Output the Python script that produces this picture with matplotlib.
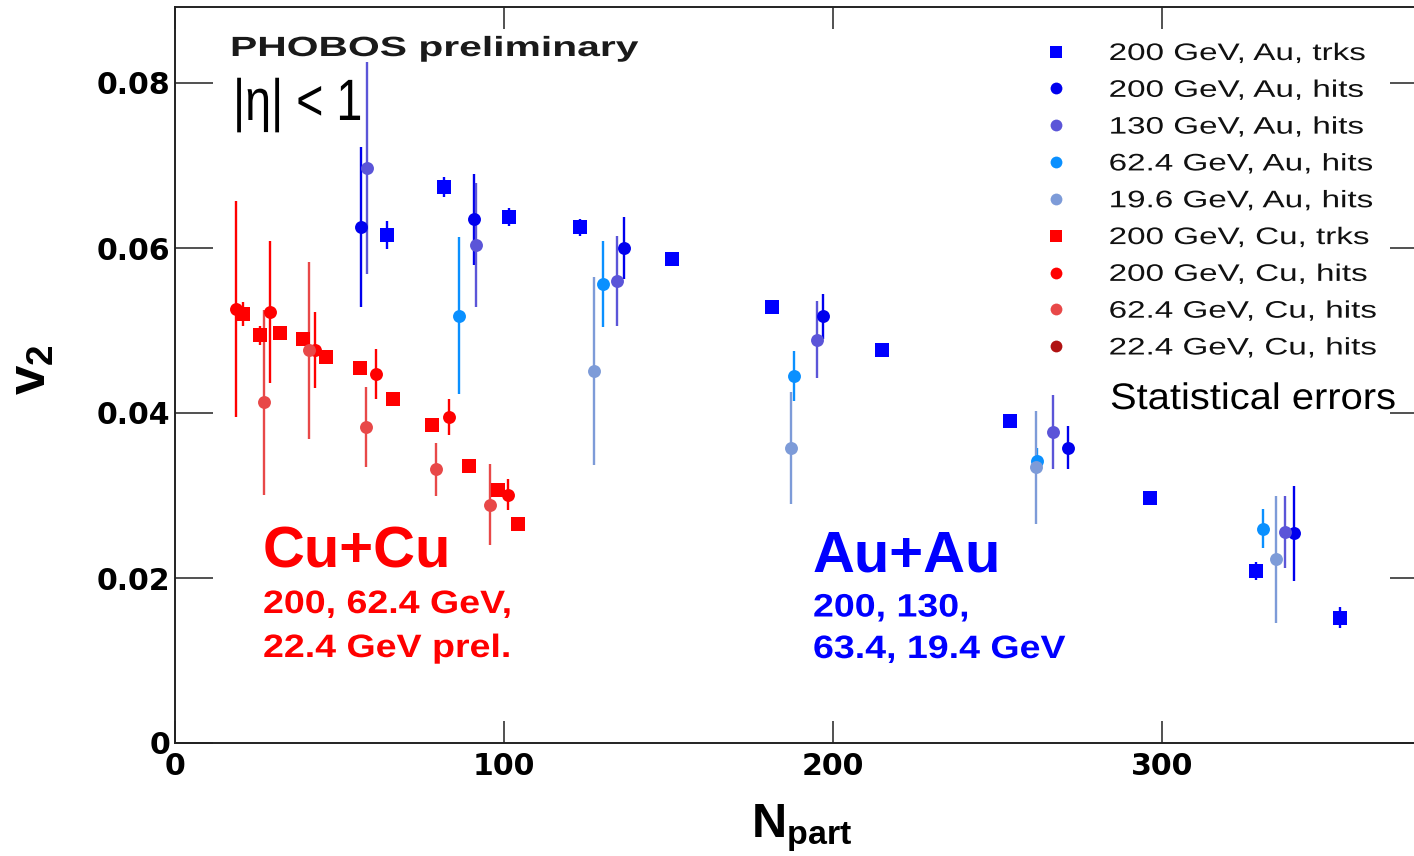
import matplotlib
matplotlib.use("Agg")
import matplotlib.pyplot as plt
from matplotlib.lines import Line2D
from matplotlib.patheffects import AbstractPathEffect
from matplotlib.transforms import Affine2D

# ---------------- data: v2 vs Npart (|eta| < 1) ----------------
au200_trk_npart = [64.4, 81.8, 101.5, 123.1, 151.1, 181.5, 214.9, 253.8, 296.4, 328.6, 354.1]
au200_trk_v2 = [0.0616, 0.0674, 0.0638, 0.0625, 0.0587, 0.0528, 0.0476, 0.0390, 0.0297, 0.0208, 0.0152]
au200_trk_err = [0.0017, 0.0012, 0.0011, 0.0010, 0.0005, 0.0005, 0.0005, 0.0005, 0.0007, 0.0011, 0.0013]

au200_hit_npart = [56.5, 90.9, 136.5, 197.1, 271.4, 340.1]
au200_hit_v2 = [0.0626, 0.0635, 0.0600, 0.0517, 0.0358, 0.0254]
au200_hit_err = [0.0097, 0.0055, 0.0037, 0.0027, 0.0026, 0.0058]

au130_hit_npart = [58.3, 91.4, 134.4, 195.2, 267.0, 337.4]
au130_hit_v2 = [0.0697, 0.0604, 0.0560, 0.0489, 0.0377, 0.0256]
au130_hit_err = [0.0128, 0.0075, 0.0055, 0.0047, 0.0045, 0.0044]

au62_hit_npart = [86.4, 130.0, 188.1, 262.0, 330.8]
au62_hit_v2 = [0.0518, 0.0556, 0.0445, 0.0342, 0.0260]
au62_hit_err = [0.0095, 0.0052, 0.0030, 0.0015, 0.0024]

au19_hit_npart = [127.4, 187.1, 261.7, 334.7]
au19_hit_v2 = [0.0451, 0.0358, 0.0334, 0.0223]
au19_hit_err = [0.0114, 0.0068, 0.0068, 0.0077]

cu200_trk_npart = [20.6, 25.8, 31.9, 38.8, 45.9, 56.3, 66.2, 78.1, 89.5, 98.1, 104.2]
cu200_trk_v2 = [0.0520, 0.0494, 0.0497, 0.0490, 0.0468, 0.0454, 0.0417, 0.0385, 0.0336, 0.0307, 0.0266]
cu200_trk_err = [0.0015, 0.0012, 0.0009, 0.0008, 0.0005, 0.0005, 0.0005, 0.0005, 0.0005, 0.0005, 0.0005]

cu200_hit_npart = [18.5, 28.9, 42.5, 61.0, 83.3, 101.1]
cu200_hit_v2 = [0.0526, 0.0522, 0.0476, 0.0447, 0.0395, 0.0301]
cu200_hit_err = [0.0131, 0.0086, 0.0046, 0.0030, 0.0022, 0.0019]

cu62_hit_npart = [27.2, 40.8, 58.1, 79.3, 95.7]
cu62_hit_v2 = [0.0413, 0.0476, 0.0383, 0.0332, 0.0289]
cu62_hit_err = [0.0112, 0.0107, 0.0048, 0.0032, 0.0049]

cu22_hit_npart = []
cu22_hit_v2 = []
cu22_hit_err = []

series_labels = ["200 GeV, Au, trks", "200 GeV, Au, hits", "130 GeV, Au, hits",
                 "62.4 GeV, Au, hits", "19.6 GeV, Au, hits", "200 GeV, Cu, trks",
                 "200 GeV, Cu, hits", "62.4 GeV, Cu, hits", "22.4 GeV, Cu, hits"]
x_ticks = [0, 100, 200, 300]
y_ticks = [0, 0.02, 0.04, 0.06, 0.08]
y_tick_labels = ["0", "0.02", "0.04", "0.06", "0.08"]

# ---------------- styling ----------------
plt.rcParams["mathtext.fontset"] = "custom"
plt.rcParams["mathtext.bf"] = "Liberation Sans:bold"
plt.rcParams["mathtext.rm"] = "Liberation Sans"
plt.rcParams["mathtext.it"] = "Liberation Sans:italic"


class WideText(AbstractPathEffect):
    """Render glyphs scaled horizontally about the text origin."""

    def __init__(self, sx):
        super().__init__()
        self._sx = sx

    def draw_path(self, renderer, gc, tpath, affine, rgbFace=None):
        renderer.draw_path(gc, tpath, Affine2D().scale(self._sx, 1.0) + affine, rgbFace)


W, H = 1414, 856
fig = plt.figure(figsize=(W / 100, H / 100), dpi=100)
ax = fig.add_axes([175 / W, 113 / H, 1253 / W, 736 / H])

series = [
    (au200_trk_npart, au200_trk_v2, au200_trk_err, "s", "#0000ff", 10.0),
    (au200_hit_npart, au200_hit_v2, au200_hit_err, "o", "#0000ee", 9.3),
    (au130_hit_npart, au130_hit_v2, au130_hit_err, "o", "#5b55d8", 9.3),
    (au62_hit_npart, au62_hit_v2, au62_hit_err, "o", "#0a90ff", 9.3),
    (au19_hit_npart, au19_hit_v2, au19_hit_err, "o", "#7d9bd8", 9.3),
    (cu200_trk_npart, cu200_trk_v2, cu200_trk_err, "s", "#ff0000", 10.0),
    (cu200_hit_npart, cu200_hit_v2, cu200_hit_err, "o", "#ff0000", 9.3),
    (cu62_hit_npart, cu62_hit_v2, cu62_hit_err, "o", "#e84848", 9.3),
    (cu22_hit_npart, cu22_hit_v2, cu22_hit_err, "o", "#b01212", 9.3),
]

handles = []
for (xs, ys, es, mk, col, ms) in series:
    if len(xs):
        ax.errorbar(xs, ys, yerr=es, fmt=mk, color=col, ms=ms, mew=0,
                    elinewidth=1.7, capsize=0, ls="none")
    handles.append(Line2D([], [], marker=mk, ls="none", color=col, mew=0,
                          ms=9.0 if mk == "s" else 8.5))

ax.set_xlim(0, 1253 / 3.29)
ax.set_ylim(0, 736 / 8250)

ax.set_xticks(x_ticks, [str(t) for t in x_ticks], fontweight="bold", fontsize=21.6,
              fontfamily="DejaVu Sans")
ax.set_yticks(y_ticks, y_tick_labels, fontweight="bold", fontsize=21.6,
              fontfamily="DejaVu Sans")
ax.tick_params(axis="x", direction="in", length=15.8, width=1.1, top=True, pad=6.5,
               color="#222222")
ax.tick_params(axis="y", direction="in", length=27.4, width=1.1, right=True, pad=3.4,
               color="#222222")
for sp in ax.spines.values():
    sp.set_linewidth(1.4)
    sp.set_color("#222222")

ax.set_xlabel(r"$\mathbf{N}_{\mathbf{part}}$", fontsize=35)
ax.xaxis.set_label_coords(0.5, -0.080)
ax.xaxis.label.set_va("top")
ax.set_ylabel(r"$\mathbf{v}_{\mathbf{2}}$", fontsize=38)
ax.yaxis.set_label_coords(-0.0945, 0.508)

leg = ax.legend(handles, series_labels, loc="upper left",
                bbox_to_anchor=(1031.7 / W, 1 - 43.0 / H), bbox_transform=fig.transFigure,
                frameon=False, prop={"family": "Liberation Sans", "size": 17.2},
                handlelength=2.0, handletextpad=1.22, labelspacing=0.62,
                borderpad=0, borderaxespad=0, labelcolor="#111111")
for t in leg.get_texts():
    t.set_path_effects([WideText(1.39)])


def ftext(px, py, s, **kw):
    return fig.text(px / W, 1 - py / H, s, ha="left", va="baseline", **kw)


ftext(230, 56, "PHOBOS preliminary", fontfamily="Liberation Sans", fontweight="bold",
      fontsize=20, color="#1a1a1a", path_effects=[WideText(1.47)])
ftext(233, 120, "|η| < 1", fontfamily="Liberation Sans", fontsize=42,
      color="black", path_effects=[WideText(0.80)])
ftext(1110, 409, "Statistical errors", fontfamily="Liberation Sans", fontsize=26.6,
      color="black", path_effects=[WideText(1.08)])

ftext(263, 568, "Cu+Cu", fontfamily="Liberation Sans", fontweight="bold", fontsize=41.8,
      color="#ff0000")
ftext(263, 613, "200, 62.4 GeV,", fontfamily="Liberation Sans", fontweight="bold",
      fontsize=23.3, color="#ff0000", path_effects=[WideText(1.16)])
ftext(263, 657, "22.4 GeV prel.", fontfamily="Liberation Sans", fontweight="bold",
      fontsize=23.3, color="#ff0000", path_effects=[WideText(1.16)])

ftext(813, 571, "Au+Au", fontfamily="Liberation Sans", fontweight="bold", fontsize=41.8,
      color="#0000ff")
ftext(813, 616.5, "200, 130,", fontfamily="Liberation Sans", fontweight="bold",
      fontsize=23.3, color="#0000ff", path_effects=[WideText(1.16)])
ftext(813, 658, "63.4, 19.4 GeV", fontfamily="Liberation Sans", fontweight="bold",
      fontsize=23.3, color="#0000ff", path_effects=[WideText(1.16)])

fig.savefig("out.png", dpi=100)
